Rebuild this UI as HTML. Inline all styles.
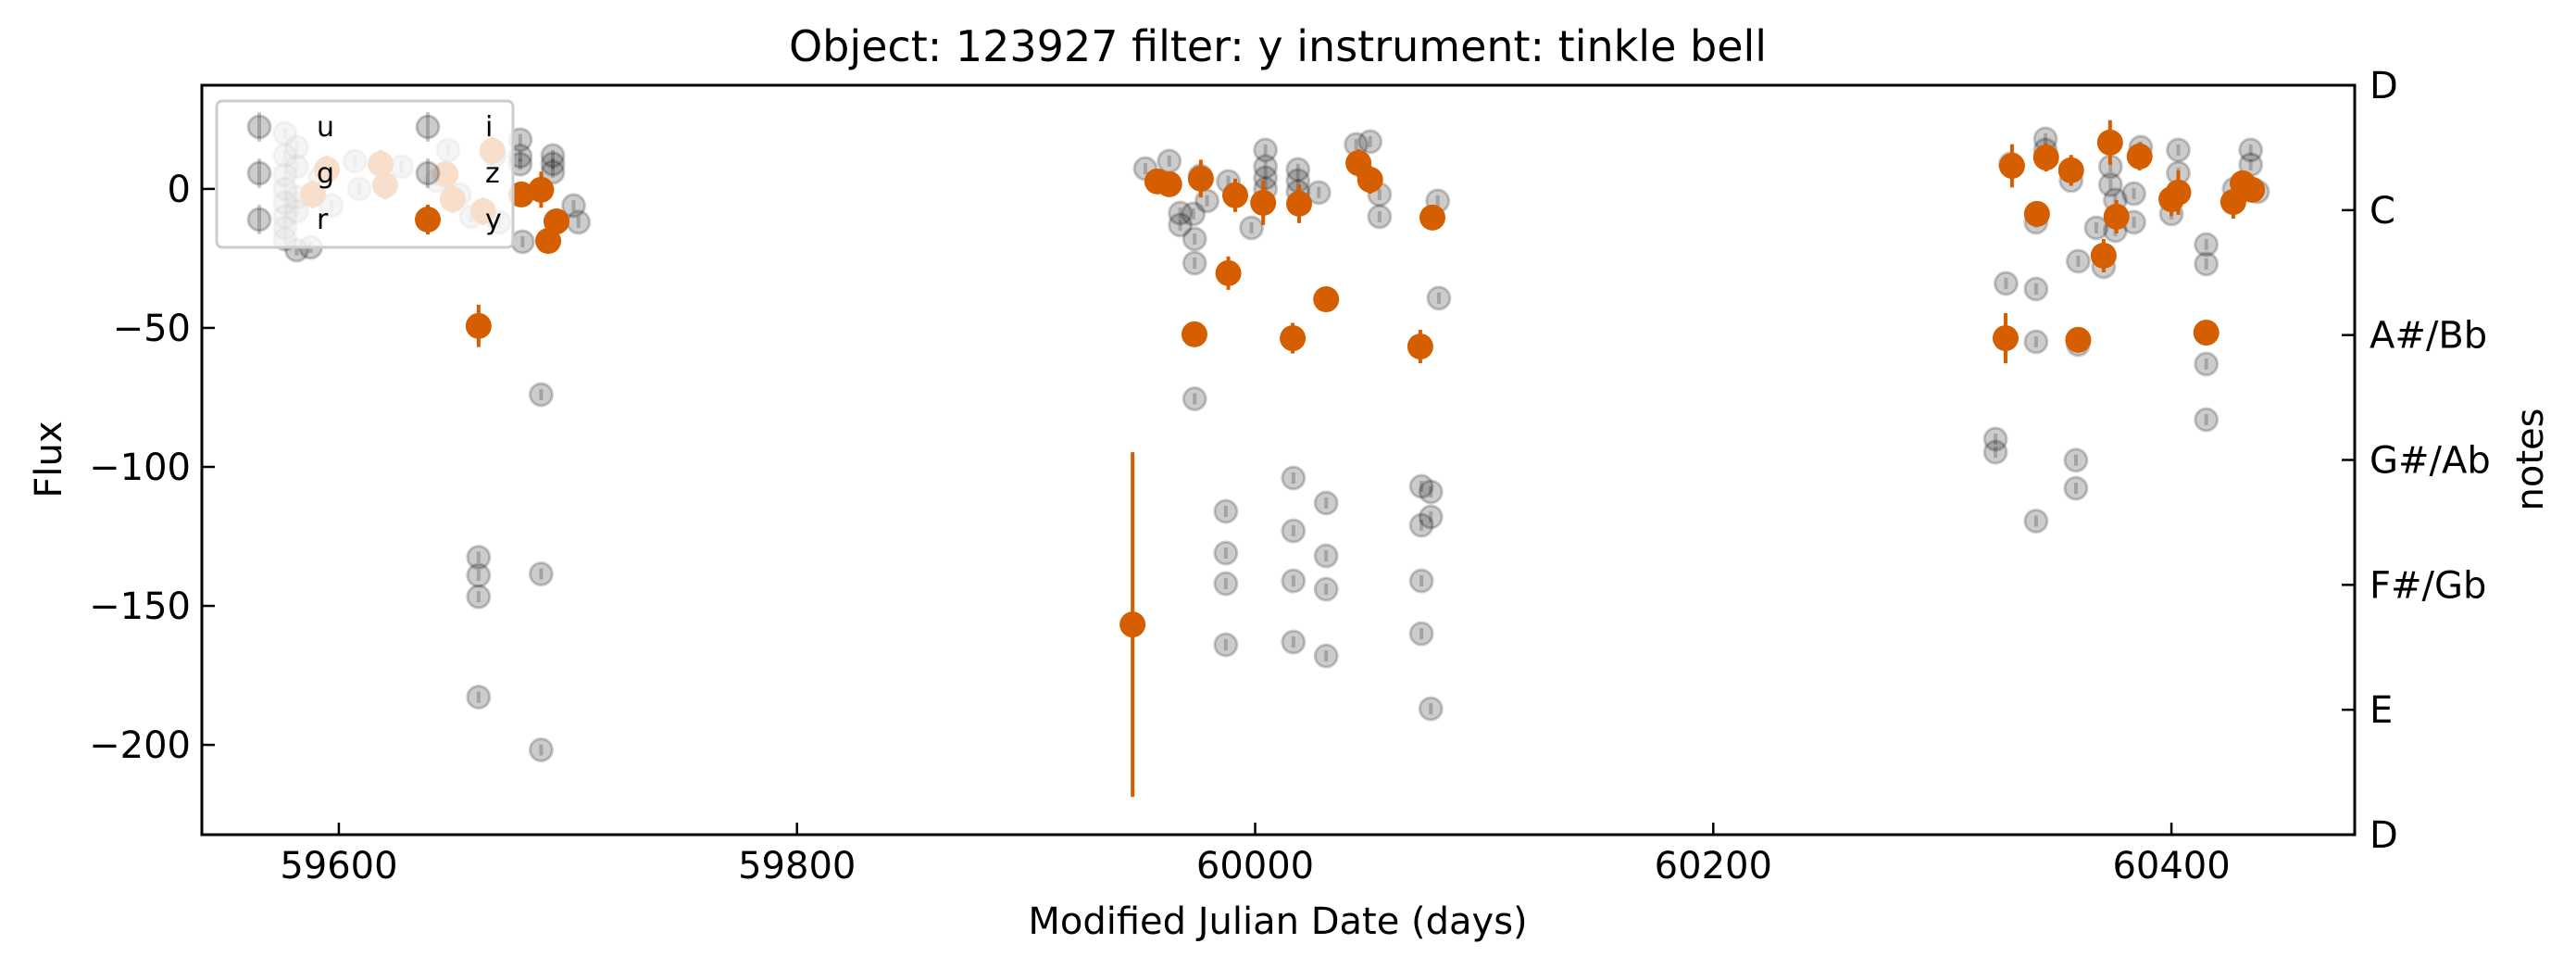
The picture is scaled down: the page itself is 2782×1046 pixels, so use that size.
<!DOCTYPE html>
<html><head><meta charset="utf-8"><style>
html,body{margin:0;padding:0;background:#fff;}
svg{display:block;font-family:"DejaVu Sans","Liberation Sans",sans-serif;}
</style></head><body>
<svg id="chart" width="2782" height="1046" viewBox="0 0 2782 1046" xmlns="http://www.w3.org/2000/svg">
<rect x="0" y="0" width="2782" height="1046" fill="#fff"/>
<g id="plot"></g>
<g id="axes"></g>
</svg>
<script>
// ---- data ----
const xTicks = [59600, 59800, 60000, 60200, 60400];
const yTicks = [0, -50, -100, -150, -200];
const noteLabels = ["D", "E", "F#/Gb", "G#/Ab", "A#/Bb", "C", "D"];
const yMjd = [59594.8,59588.7,59618.2,59620.2,59646.6,59649.7,59667.0,59663.0,59661.0,59679.7,59688.3,59695.0,59691.4,
  59946.5,59957.3,59962.5,59976.3,59991.3,60003.5,60019.2,60045.1,60050.2,60077.4,59988.3,60031.0,59973.5,60016.4,60072.1,
  60330.4,60345.3,60356.2,60373.2,60386.1,60341.3,60376.0,60370.4,60403,60400,60431.1,60435.2,60427.0,60327.6,60359.3,60415.2];
const yFlux = [7,-2,9,1.3,5.3,-3.7,13.7,-8,-49.3,-2,-0.3,-11.7,-18.7,
  -156.7,2.7,1.7,3.7,-2.3,-5,-5.3,9.3,3.3,-10.3,-30.3,-39.7,-52.3,-53.7,-56.7,
  8.3,11.3,6.7,16.7,11.7,-9,-10,-24,-1.3,-3.7,2,-0.3,-4.7,-53.7,-54.3,-51.7];
const yErr = [5,5,5,5,5,5,5,5,7.6,4,6.5,4,4,
  62,4,4,6.8,6,8,7,5,5,4,6,3,3,5.5,6,
  7.8,5,5.5,8,5,3,6,6,8,6,4,4,6,9,4,3];
const gMjd = [59576.5,59576.5,59576.5,59576.5,59576.5,59576.5,59576.5,59576.5,59581.6,59581.6,59581.6,59581.6,59581.6,59591.8,59596.8,59607.0,59609.0,59627.3,59642.6,59647.7,59652.7,59657.8,59668.0,59670.0,
  59679.2,59679.2,59679.2,59693.4,59693.4,59693.4,59702.5,59704.6,59680.2,59661.0,59661.0,59661.0,59661.0,59688.3,59688.3,59688.3,59587.7,
  59952.1,59962.5,59967.3,59967.3,59979.0,59976.0,59988.3,60004.5,60004.5,60004.5,60004.5,60018.7,60018.7,60018.7,60027.8,60044.1,60050.2,60054.3,60054.3,60079.7,60080.2,
  59973.6,59973.6,59973.6,59998.4,59973.0,59987.2,59987.2,59987.2,59987.2,60016.7,60016.7,60016.7,60016.7,60031.0,60031.0,60031.0,60031.0,60072.6,60072.6,60072.6,60072.6,60076.7,60076.7,60076.7,
  60329.8,60345.0,60345.0,60340.9,60356.2,60373.4,60373.4,60383.6,60386.6,60375.5,60383.6,60367.2,60375.5,60370.4,60359.3,60327.8,60340.9,60340.9,60359.3,60403,60403,60400,60415.2,60415.2,60415.2,60434.6,60434.6,60427.4,60437.6,
  60323.2,60323.2,60340.9,60358.3,60358.3,60415.2];
const gFlux = [20,12,5,0,-5,-10,-14,-18,15,8,-3,-8,-22,4,-6,10,0,8,3,14,-2,-10,12,-12,
  17.7,11.8,8.9,12,9,6,-6,-12,-19,-132.5,-139,-146.7,-182.8,-74,-138.5,-201.8,-21,
  7.3,10,-8.7,-13,-4.3,4.7,2.7,14,8,4,0,7,3,-1,-1.3,16,17,-2,-10,-4.3,-39.3,
  -18,-26.7,-75.5,-14,-9,-116,-131,-142,-164,-104,-123,-141,-163,-113,-132,-144,-168,-107,-121,-141,-160,-109,-118,-187,
  9,18,14,-12,3,1.5,8,-1.7,15,-4,-12,-14,-15,-28,-26,-34,-36,-55,-56,14,5.7,-9,-20,-27,-63,14,8.7,0,-1,
  -90,-94.7,-119.5,-97.6,-107.7,-83];

// ---- axis functions ----
const L=218, R=2543, T=92, B=901;
const xMin=59540.2, xMax=60480.0, yMin=-232.3, yMax=37.3;
const xs = v => L + (v - xMin) / (xMax - xMin) * (R - L);
const ys = v => T + (yMax - v) / (yMax - yMin) * (B - T);
const NS="http://www.w3.org/2000/svg";
function mk(tag, attrs, parent){const e=document.createElementNS(NS,tag);for(const k in attrs)e.setAttribute(k,attrs[k]);parent.appendChild(e);return e;}
const plot=document.getElementById('plot'), axes=document.getElementById('axes');

const defs=mk('defs',{},plot);
const cp=mk('clipPath',{id:'clip'},defs); mk('rect',{x:L,y:T,width:R-L,height:B-T},cp);
const gClip=mk('g',{'clip-path':'url(#clip)'},plot);

gMjd.forEach((m,i)=>{
  const g=mk('g',{},gClip);
  
  
  const cx=xs(m), cy=ys(gFlux[i]);
  mk('circle',{cx:cx,cy:cy,r:12,fill:'#000','fill-opacity':0.2,stroke:'#000','stroke-opacity':0.2,'stroke-width':3},g);
  mk('line',{x1:cx,x2:cx,y1:cy-6,y2:cy+6,stroke:'#000','stroke-opacity':0.2,'stroke-width':4},g);
});
yMjd.forEach((m,i)=>{
  const g=mk('g',{},gClip);
  
  
  const cx=xs(m), cy=ys(yFlux[i]);
  mk('line',{x1:cx,x2:cx,y1:ys(yFlux[i]+yErr[i]),y2:ys(yFlux[i]-yErr[i]),stroke:'#D55E00','stroke-width':4},g);
  mk('circle',{cx:cx,cy:cy,r:14,fill:'#D55E00'},g);
});

const lg=mk('g',{},plot);


mk('rect',{x:234,y:109,width:320,height:158,rx:6,fill:'#fff','fill-opacity':0.8,stroke:'#ccc','stroke-width':3},lg);
const legItems=[["u",280,137,0],["g",280,187,0],["r",280,237,0],["i",462,137,0],["z",462,187,0],["y",462,237,1]];
legItems.forEach(it=>{
  const e=mk('g',{},lg);
  
  
  if(it[3]){
    mk('line',{x1:it[1],x2:it[1],y1:it[2]-16,y2:it[2]+16,stroke:'#D55E00','stroke-width':4},e);
    mk('circle',{cx:it[1],cy:it[2],r:14,fill:'#D55E00'},e);
  } else {
    mk('circle',{cx:it[1],cy:it[2],r:12,fill:'#000','fill-opacity':0.2,stroke:'#000','stroke-opacity':0.2,'stroke-width':3},e);
    mk('line',{x1:it[1],x2:it[1],y1:it[2]-16,y2:it[2]+16,stroke:'#000','stroke-opacity':0.2,'stroke-width':4},e);
  }
  const t=mk('text',{x:it[1]+62,y:it[2]+10,'font-size':30,fill:'#000'},e); t.textContent=it[0];
});

const fr=mk('rect',{x:L,y:T,width:R-L,height:B-T,fill:'none',stroke:'#000','stroke-width':3},axes);
 
xTicks.forEach(v=>{
  const x=xs(v);
  mk('line',{x1:x,x2:x,y1:B,y2:B-13,stroke:'#000','stroke-width':2.5},axes);
  const t=mk('text',{x:x,y:948,'text-anchor':'middle','font-size':40},axes); t.textContent=v;
   
});
yTicks.forEach(v=>{
  const y=ys(v);
  mk('line',{x1:L,x2:L+14,y1:y,y2:y,stroke:'#000','stroke-width':2.5},axes);
  const t=mk('text',{x:L-12,y:y+14,'text-anchor':'end','font-size':40},axes); t.textContent=(v<0?'\u2212'+(-v):v);
   
});
noteLabels.forEach((n,i)=>{
  const y=B-(B-T)*i/(noteLabels.length-1);
  mk('line',{x1:R,x2:R-14,y1:y,y2:y,stroke:'#000','stroke-width':2.5},axes);
  const t=mk('text',{x:2559,y:y+14,'font-size':40},axes); t.textContent=n;
   
});
</script>
<svg style="position:absolute;left:0;top:0" width="2782" height="1046">
<text x="1380" y="66" text-anchor="middle" font-size="46" font-family="DejaVu Sans, Liberation Sans, sans-serif">Object: 123927 filter: y instrument: tinkle bell</text>
<text x="1380" y="1008" text-anchor="middle" font-size="40" font-family="DejaVu Sans, Liberation Sans, sans-serif">Modified Julian Date (days)</text>
<text transform="translate(66,496) rotate(-90)" text-anchor="middle" font-size="40" font-family="DejaVu Sans, Liberation Sans, sans-serif">Flux</text>
<text transform="translate(2746,496) rotate(-90)" text-anchor="middle" font-size="40" font-family="DejaVu Sans, Liberation Sans, sans-serif">notes</text>
</svg>
</body></html>
